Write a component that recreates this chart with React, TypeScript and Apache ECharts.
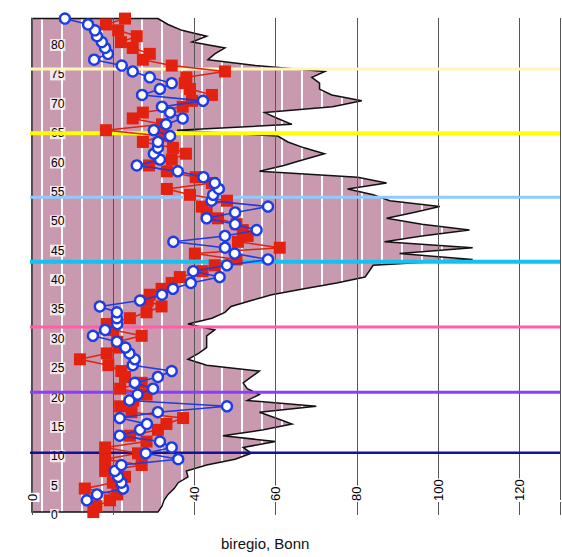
import React, { useEffect, useRef } from 'react';
import * as echarts from 'echarts';

// Age groups (years)
const ages = [
  0, 1, 2, 3, 4, 5, 6, 7, 8, 9,
  10, 11, 12, 13, 14, 15, 16, 17, 18, 19,
  20, 21, 22, 23, 24, 25, 26, 27, 28, 29,
  30, 31, 32, 33, 34, 35, 36, 37, 38, 39,
  40, 41, 42, 43, 44, 45, 46, 47, 48, 49,
  50, 51, 52, 53, 54, 55, 56, 57, 58, 59,
  60, 61, 62, 63, 64, 65, 66, 67, 68, 69,
  70, 71, 72, 73, 74, 75, 76, 77, 78, 79,
  80, 81, 82, 83, 84,
];

// Shaded profile (black outline)
const profileValues = [
  31, 32, 32.5, 33.5, 35, 36, 38.4, 38, 43, 50,
  54, 52, 60, 47, 57, 64, 60, 56, 70, 53,
  56, 53, 52, 54, 56, 43, 38.4, 41, 43, 43,
  43, 45, 38.4, 44.3, 47.5, 49, 54, 59, 67, 75,
  82, 83, 84, 108.5, 90.5, 108.5, 86.8, 96, 107.7, 96,
  87.3, 94, 100.4, 88.1, 84, 77.7, 87.3, 80.2, 56, 62,
  67, 72, 67, 63, 60.5, 35.7, 64, 60.5, 57.3, 74,
  81.2, 73.8, 70.8, 70.8, 68.9, 72.1, 55, 43.3, 45, 47.5,
  39.4, 43, 36.9, 33.5, 31,
];

// Red squares
const redValues = [
  15.1, 15.9, 19.2, 21, 13, 19.9, 22.9, 18, 27, 18,
  26.1, 18, 28.2, 24.1, 31, 33.1, 37.2, 24.5, 21.7, 24.9,
  28.2, 21.7, 27, 22.9, 22, 18.8, 11.8, 18.4, 21.5, 21,
  27, 20, 18.4, 24.1, 28.2, 31.9, 28.5, 29, 31.9, 34.4,
  36.4, 42, 45, 50.4, 40.1, 61, 50.7, 53.1, 51.9, 50.4,
  45.8, 43, 41.8, 48, 38.9, 33.2, 44.3, 40.3, 33.2, 28.8,
  34.4, 37.9, 34.7, 27.3, 32, 18.2, 32, 24.8, 27.3, 37.1,
  39.4, 44.3, 38.9, 37.6, 38, 47.5, 34.4, 27.3, 29, 24.8,
  21.9, 25.8, 21.2, 18.2, 22.9,
];

// Blue circles
const blueValues = [
  null, null, 13.5, 16, 22.4, 22, 21.2, 20.4, 22, 36,
  28, 34.4, 31.5, 21.6, 26.6, 28.3, 21.6, 31, 48, 24,
  26, 29.8, 25.3, 31, 34.4, 24.8, 25.3, 24, 23, 20.9,
  15, 18, 21, 20.9, 20.9, 16.7, 26.6, 32, 34.7, 39.1,
  46.2, 39.7, 48, 58.1, 49.9, 47.5, 34.8, 47.5, 55.3, 50,
  43, 50, 58.1, 44.2, 44.6, 46, 45, 42.2, 35.9, 25.8,
  31.5, 30, 31, 31, 34, 30, 33, 37.1, 34, 32,
  42.1, 27.1, 31.5, 34.4, 29, 24.8, 22.1, 15.3, 18.7, 18,
  17.2, 16, 15.5, 13.8, 8.1,
];

// Horizontal reference lines (age) and their colours
const refLineAges = [10.6, 20.9, 32.0, 43.1, 54.1, 65.0, 75.9];
const refLineColors = ['#11119a', '#8a3cff', '#ff5fa8', '#12c2f0', '#8fcaff', '#ffff00', '#fff6b8'];
const refLineWidths = [2.5, 3, 3, 4, 3, 4, 3];

const hiddenXLabels = [20, 130];
const xTitle = 'biregio, Bonn';

const FONT = "'Liberation Sans', Arial, sans-serif";

function makeStripePattern() {
  const c = document.createElement('canvas');
  c.width = 20;
  c.height = 4;
  const ctx = c.getContext('2d')!;
  ctx.fillStyle = '#c99aaf';
  ctx.fillRect(0, 0, 20, 4);
  ctx.fillStyle = '#ffffff';
  ctx.fillRect(1, 0, 2, 4);
  return { image: c.toDataURL(), repeat: 'repeat', imageWidth: 20, imageHeight: 4 };
}

export default function App() {
  const ref = useRef<HTMLDivElement>(null);

  useEffect(() => {
    document.body.style.margin = '0';
    const chart = echarts.init(ref.current!, null, { renderer: 'svg' });
    const pattern = makeStripePattern();

    const mid = (a: number) => a + 0.5;

    const refSeries = refLineAges.map((a, i) => ({
      type: 'line',
      data: [[-2.4, a], [130, a]],
      symbol: 'none',
      clip: false,
      silent: true,
      z: 4,
      lineStyle: { color: refLineColors[i], width: refLineWidths[i] },
    }));

    chart.setOption({
      animation: false,
      title: {
        text: xTitle,
        left: 221,
        top: 536,
        padding: 0,
        textStyle: { fontFamily: FONT, fontSize: 15, fontWeight: 'normal', color: '#111' },
      },
      grid: { left: 32, right: 2, top: 18, bottom: 42, containLabel: false },
      xAxis: {
        type: 'value',
        min: 0,
        max: 130,
        interval: 20,
        z: 3,
        axisLine: { show: false },
        axisTick: { show: false },
        splitLine: { show: true, lineStyle: { color: '#555', width: 1 } },
        axisLabel: {
          inside: true,
          rotate: 90,
          margin: 13,
          fontFamily: FONT,
          fontSize: 13,
          color: '#000',
          backgroundColor: '#fff',
          padding: [1, 1],
          formatter: (v: number) => (hiddenXLabels.includes(v) ? '' : String(v)),
        },
      },
      yAxis: {
        type: 'value',
        min: 0,
        max: 84.6,
        interval: 5,
        z: 3,
        axisLine: { show: false },
        axisTick: { show: false },
        splitLine: { show: false },
        axisLabel: {
          inside: true,
          margin: 18,
          fontFamily: FONT,
          fontSize: 12,
          color: '#000',
          backgroundColor: 'rgba(255,255,255,0.75)',
          padding: [0, 1],
          formatter: (v: number) => (v % 5 === 0 ? String(v) : ''),
        },
      },
      series: [
        {
          type: 'custom',
          coordinateSystem: 'cartesian2d',
          data: [[0, 0]],
          silent: true,
          clip: false,
          z: 1,
          renderItem: (_p: any, api: any) => {
            const pts: number[][] = [];
            pts.push(api.coord([0, mid(ages[0])]));
            ages.forEach((a, i) => pts.push(api.coord([profileValues[i], mid(a)])));
            pts.push(api.coord([0, mid(ages[ages.length - 1])]));
            return {
              type: 'polygon',
              shape: { points: pts },
              style: { fill: pattern, stroke: '#111', lineWidth: 1.5 },
            };
          },
        },
        ...refSeries,
        {
          type: 'line',
          data: ages.map((a, i) => [redValues[i], mid(a)]),
          symbol: 'rect',
          symbolSize: 12,
          z: 5,
          itemStyle: { color: '#e3210f' },
          lineStyle: { color: '#e3210f', width: 1.5 },
        },
        {
          type: 'line',
          data: ages
            .map((a, i) => (blueValues[i] == null ? null : [blueValues[i], mid(a)]))
            .filter((d) => d !== null),
          symbol: 'circle',
          symbolSize: 10,
          z: 6,
          itemStyle: { color: '#ffffff', borderColor: '#1b3ce6', borderWidth: 2.4 },
          lineStyle: { color: '#1b3ce6', width: 1.6 },
        },
      ],
    });

    return () => chart.dispose();
  }, []);

  return <div ref={ref} style={{ width: 562, height: 557 }} />;
}
